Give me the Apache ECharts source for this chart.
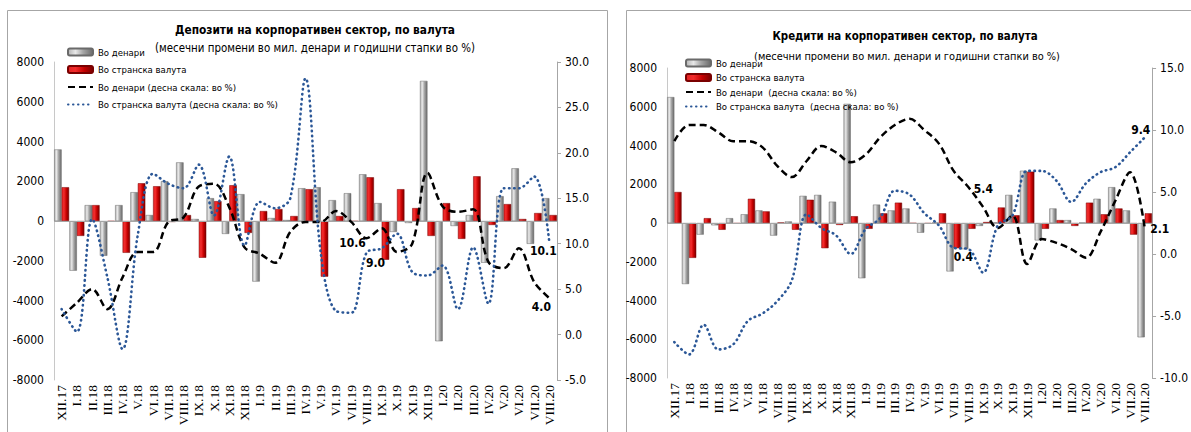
<!DOCTYPE html>
<html><head><meta charset="utf-8">
<script src="https://cdn.jsdelivr.net/npm/echarts@6/dist/echarts.min.js"></script>
<style>html,body{margin:0;padding:0;background:#fff}#c{width:1191px;height:432px}</style>
</head><body><div id="c"></div>
<script>
// ---- data ----
const categories = ['XII.17','I.18','II.18','III.18','IV.18','V.18','VI.18','VII.18','VIII.18','IX.18','X.18','XI.18','XII.18',
  'I.19','II.19','III.19','IV.19','V.19','VI.19','VII.19','VIII.19','IX.19','X.19','XI.19','XII.19',
  'I.20','II.20','III.20','IV.20','V.20','VI.20','VII.20','VIII.20'];

// Deposits (left panel), monthly changes, mill. denars
const depDen = [3600,-2500,800,-1750,800,1450,300,2000,2950,100,1150,-650,1350,-3050,150,50,1650,1700,1050,1400,2350,900,-550,-100,7050,-6050,-250,300,-2100,1250,2650,-1150,1150];
const depFor = [1700,-750,800,-20,-1600,1900,1750,-50,300,-1850,1000,1800,-600,500,600,250,1600,-2800,250,-20,2200,-1950,1600,650,-750,900,-900,2250,-200,850,100,400,300];
// Deposits annual growth, %
const depDenGr = [2.0,3.5,5.0,2.8,6.3,9.1,9.1,12.4,12.9,16.3,16.6,14.0,9.6,8.9,7.9,11.3,12.4,12.4,13.6,12.4,10.6,11.7,9.1,10.0,17.8,14.1,13.5,13.8,8.0,7.3,9.5,5.8,4.0];
const depForGr = [2.8,0.3,12.7,6.3,-1.6,11.0,17.7,16.6,16.1,18.7,13.1,19.6,9.8,14.6,13.9,15.0,28.2,9.0,2.6,2.4,9.0,9.5,11.1,6.9,6.5,7.6,2.8,9.6,3.4,16.1,16.1,17.4,10.1];

// Credits (right panel), monthly changes, mill. denars
const credDen = [6500,-3150,-600,-120,250,450,650,-650,80,1400,1450,1100,6150,-2850,950,650,750,-500,20,-2500,-1350,-150,30,1450,2700,-900,750,150,20,1250,1850,650,-5900];
const credFor = [1600,-1800,250,-350,-30,1250,600,20,-350,1200,-1300,-100,350,-300,500,1050,-20,-30,500,-1300,-300,50,800,400,2650,-300,150,-150,1050,450,750,-600,500];
// Credits annual growth, %
const credDenGr = [9.1,10.4,10.4,9.8,9.1,9.1,8.6,7.1,6.2,7.5,8.7,8.2,7.4,8.0,9.4,10.4,10.9,10.0,8.9,6.7,5.4,3.8,2.1,3.1,-0.8,1.2,0.9,0.4,-0.3,1.8,4.3,6.6,2.1];
const credForGr = [-7.1,-8.1,-5.7,-7.7,-7.3,-5.4,-4.8,-3.8,-2.1,3.2,2.1,1.5,0.0,2.0,2.9,5.1,4.8,3.3,2.3,0.5,0.4,-1.5,2.3,3.1,6.7,6.7,5.9,4.2,5.7,6.6,7.0,8.2,9.4];

const leftNames = ['Во денари','Во странска валута','Во денари (десна скала: во %)','Во странска валута (десна скала: во %)'];
const rightNames = ['Во денари','Во странска валута','Во денари  (десна скала: во %)','Во странска валута  (десна скала: во %)'];

// ---- styling ----
const FONT = '"DejaVu Sans Condensed","DejaVu Sans",sans-serif';
const grayGrad = new echarts.graphic.LinearGradient(0,0,1,0,[
  {offset:0,color:'#b4b4b4'},{offset:0.3,color:'#e8e8e8'},{offset:0.6,color:'#a6a6a6'},{offset:1,color:'#6a6a6a'}]);
const redGrad = new echarts.graphic.LinearGradient(0,0,1,0,[
  {offset:0,color:'#e22424'},{offset:0.3,color:'#f22b2b'},{offset:0.65,color:'#c40000'},{offset:1,color:'#7a0000'}]);
const BLUE = '#2b5797';

function barSeries(name, data, grad, border, gi, zero){
  const s = {type:'bar', name, data, xAxisIndex:gi, yAxisIndex:gi*2, barGap:'0%', barCategoryGap:'2%',
    itemStyle:{color:grad, borderColor:border, borderWidth:0.5}};
  if (zero) s.markLine = {silent:true, symbol:'none', label:{show:false},
    lineStyle:{color:'#a6a6a6', width:1, type:'solid'}, data:[{yAxis:0}]};
  return s;
}
function mp(list){
  return {symbol:'circle', symbolSize:1, itemStyle:{color:'rgba(0,0,0,0)'},
    label:{show:true, position:'inside', color:'#000', fontWeight:'bold', fontSize:12, fontFamily:FONT,
      formatter:p=>Number(p.value).toFixed(1)},
    data:list.map(([idx,val,off])=>({coord:[idx,val], value:val, label:{offset:off}}))};
}
function lineSeries(name, data, dashed, gi, marks){
  return {type:'line', name, data, xAxisIndex:gi, yAxisIndex:gi*2+1, symbol:'none', showSymbol:false, smooth:0.35, z:5,
    lineStyle: dashed ? {color:'#000', width:2.5, type:[7,4]} : {color:BLUE, width:2.6, type:[0.5,4.5], cap:'round'},
    itemStyle:{color: dashed ? '#000' : BLUE},
    markPoint: mp(marks)};
}

const xAxisBase = gi => ({type:'category', gridIndex:gi, data:categories,
  axisLine:{show:false}, axisTick:{show:false},
  axisLabel:{rotate:90, interval:0, margin:5, fontFamily:'"Liberation Serif","DejaVu Serif",serif', fontSize:13.5, color:'#000'}});
const yLeft = gi => ({type:'value', gridIndex:gi, position:'left', min:-8000, max:8000, interval:2000,
  axisLine:{show:true, lineStyle:{color:'#c8c8c8'}}, axisTick:{show:false}, splitLine:{show:false},
  axisLabel:{fontFamily:FONT, fontSize:12, color:'#000', margin:10, formatter:v=>String(v)}});
const yRight = (gi,mn,mx) => ({type:'value', gridIndex:gi, position:'right', min:mn, max:mx, interval:5,
  axisLine:{show:true, lineStyle:{color:'#a6a6a6'}}, axisTick:{show:true, length:4, lineStyle:{color:'#a6a6a6'}},
  splitLine:{show:false},
  axisLabel:{fontFamily:FONT, fontSize:12, color:'#000', margin:8, formatter:v=>v.toFixed(1)}});

const legendBase = {orient:'vertical', itemWidth:25, itemHeight:7,
  textStyle:{fontFamily:FONT, fontSize:9.5, color:'#000'}};
const legendData = names => names.map((n,i)=> i<2 ? {name:n} : {name:n, itemStyle:{opacity:0}});

const chart = echarts.init(document.getElementById('c'), null, {renderer:'svg'});
chart.setOption({
  animation:false,
  backgroundColor:'#fff',
  grid:[{left:54, right:634, top:62, bottom:52}, {left:667, right:35, top:68, bottom:54}],
  xAxis:[xAxisBase(0), xAxisBase(1)],
  yAxis:[yLeft(0), yRight(0,-5,30), yLeft(1), yRight(1,-10,15)],
  legend:[
    Object.assign({}, legendBase, {left:62, top:42, itemGap:7.5, data:legendData(leftNames)}),
    Object.assign({}, legendBase, {left:680, top:53, itemGap:4.5, data:legendData(rightNames)})
  ],
  graphic:[
    {type:'rect', silent:true, shape:{x:7.5,y:10.5,width:600,height:440}, style:{fill:'none', stroke:'#a6a6a6', lineWidth:1}},
    {type:'rect', silent:true, shape:{x:626.5,y:10.5,width:600,height:440}, style:{fill:'none', stroke:'#a6a6a6', lineWidth:1}},
    {type:'text', x:315, y:30, style:{text:'Депозити на корпоративен сектор, по валута', fontFamily:FONT, fontWeight:'bold', fontSize:11.8, fill:'#000', align:'center', verticalAlign:'middle'}},
    {type:'text', x:315, y:48, style:{text:'(месечни промени во мил. денари и годишни стапки во %)', fontFamily:FONT, fontSize:11.4, fill:'#000', align:'center', verticalAlign:'middle'}},
    {type:'text', x:905, y:36, style:{text:'Кредити на корпоративен сектор, по валута', fontFamily:FONT, fontWeight:'bold', fontSize:11.4, fill:'#000', align:'center', verticalAlign:'middle'}},
    {type:'text', x:907, y:56, style:{text:'(месечни промени во мил. денари и годишни стапки во %)', fontFamily:FONT, fontSize:10.9, fill:'#000', align:'center', verticalAlign:'middle'}}
  ],
  series:[
    barSeries(leftNames[0], depDen, grayGrad, '#6a6a6a', 0, true),
    barSeries(leftNames[1], depFor, redGrad, '#7a0000', 0, false),
    lineSeries(leftNames[2], depDenGr, true, 0, [[20, depDenGr[20], [-14,5]], [32, depDenGr[32], [-8,9]]]),
    lineSeries(leftNames[3], depForGr, false, 0, [[20, depForGr[20], [9,10]], [32, depForGr[32], [-6,8]]]),
    barSeries(rightNames[0], credDen, grayGrad, '#6a6a6a', 1, true),
    barSeries(rightNames[1], credFor, redGrad, '#7a0000', 1, false),
    lineSeries(rightNames[2], credDenGr, true, 1, [[20, credDenGr[20], [15,2]], [32, credDenGr[32], [15,1]]]),
    lineSeries(rightNames[3], credForGr, false, 1, [[20, credForGr[20], [-5,8]], [32, credForGr[32], [-4,-7]]])
  ]
});
</script></body></html>
